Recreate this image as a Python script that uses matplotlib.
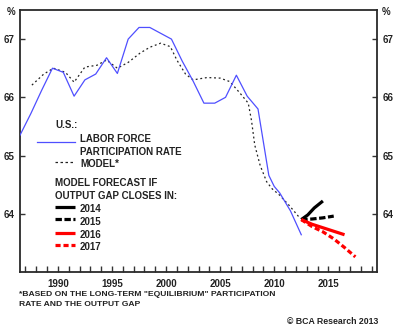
import matplotlib
matplotlib.use("Agg")
import matplotlib.pyplot as plt
from matplotlib.lines import Line2D

# ---------------- data ----------------
lfpr_years = [1986.5, 1987.5, 1988.5, 1989.5, 1990.5, 1991.5, 1992.5, 1993.5, 1994.5,
              1995.5, 1996.5, 1997.5, 1998.5, 1999.5, 2000.5, 2001.5, 2002.5, 2003.5,
              2004.5, 2005.5, 2006.5, 2007.5, 2008.5, 2009.5, 2010.0, 2010.5, 2011.5, 2012.5]
lfpr_values = [65.35, 65.72, 66.12, 66.50, 66.43, 66.02, 66.30, 66.40, 66.68,
               66.41, 67.00, 67.20, 67.20, 67.10, 67.00, 66.62, 66.28, 65.90,
               65.90, 66.00, 66.38, 66.02, 65.80, 64.66, 64.47, 64.36, 64.05, 63.64]

model_years = [1987.6, 1988.7, 1989.6, 1990.7, 1991.5, 1992.5, 1993.6, 1994.5, 1995.5,
               1996.5, 1997.6, 1998.5, 1999.5, 2000.4, 2001.0, 2001.8, 2002.5, 2003.8,
               2005.0, 2005.9, 2006.8, 2007.6, 2007.9, 2008.2, 2008.7, 2009.3, 2009.8,
               2010.5, 2011.4, 2012.4]
model_values = [66.21, 66.40, 66.50, 66.43, 66.26, 66.52, 66.55, 66.64, 66.50,
                66.60, 66.76, 66.86, 66.93, 66.87, 66.64, 66.40, 66.30, 66.34,
                66.33, 66.27, 66.08, 65.90, 65.60, 65.18, 64.83, 64.55, 64.43,
                64.32, 64.14, 63.92]

f2014_years = [2012.5, 2013.1, 2013.7, 2014.5]
f2014_values = [63.90, 63.98, 64.10, 64.22]
f2015_years = [2012.5, 2013.5, 2014.5, 2015.5]
f2015_values = [63.90, 63.91, 63.93, 63.96]
f2016_years = [2012.5, 2013.5, 2014.5, 2015.5, 2016.5]
f2016_values = [63.90, 63.82, 63.76, 63.70, 63.64]
f2017_years = [2012.5, 2013.5, 2014.5, 2015.5, 2016.5, 2017.5]
f2017_values = [63.90, 63.78, 63.69, 63.57, 63.42, 63.26]

x_major = [1990, 1995, 2000, 2005, 2010, 2015]
x_minor = list(range(1987, 2020))
y_ticks = [64, 65, 66, 67]

# ---------------- style ----------------
W, H = 400, 330
FONT = ["Liberation Sans", "DejaVu Sans"]
TXT = "#222222"
BLUE = "#4f4fff"
RED = "#ff0000"
FLW = 2.3

plt.rcParams["font.family"] = FONT

fig = plt.figure(figsize=(W / 100, H / 100), dpi=100)
ax = fig.add_axes([20 / W, 1 - 272 / H, (377 - 20) / W, (272 - 10) / H])


def P(x, y):
    return x / W, 1 - y / H


ax.plot(lfpr_years, lfpr_values, color=BLUE, lw=0.9, zorder=3)
ax.plot(model_years, model_values, color="#222222", lw=0.9, dashes=(1.5, 2.2), zorder=2)
ax.plot(f2014_years, f2014_values, color="black", lw=FLW, zorder=4, solid_capstyle="butt")
ax.plot(f2015_years, f2015_values, color="black", lw=FLW, dashes=(2.0, 0.8), zorder=4)
ax.plot(f2016_years, f2016_values, color=RED, lw=FLW, zorder=4, solid_capstyle="butt")
ax.plot(f2017_years, f2017_values, color=RED, lw=FLW, dashes=(1.6, 0.9), zorder=4)

ax.set_xlim(1986.5, 2019.5)
ax.set_ylim(63.0, 67.5)

ax.set_xticks(x_minor, minor=True)
ax.set_xticks(x_major)
ax.set_xticklabels([str(v) for v in x_major])
ax.set_yticks(y_ticks)
ax.set_yticklabels([str(v) for v in y_ticks])

ax.tick_params(axis="x", which="both", direction="in", length=4.5, width=1.0,
               color="#333333", pad=5, labelsize=7, labelcolor=TXT)
ax.tick_params(axis="y", which="both", direction="in", length=3.5, width=1.0,
               color="#333333", pad=4, labelsize=7, labelcolor=TXT,
               left=True, right=True, labelleft=True, labelright=True)
for lab in ax.get_xticklabels() + ax.get_yticklabels():
    lab.set_fontweight("bold")

for s in ax.spines.values():
    s.set_linewidth(1.3)
    s.set_color("#2a2a2a")

# percent signs
fig.text(*P(11, 12), "%", fontsize=7, fontweight="bold", color=TXT, ha="center", va="center")
fig.text(*P(386, 12), "%", fontsize=7, fontweight="bold", color=TXT, ha="center", va="center")

# ---------------- legend (manual layout) ----------------
def ltext(x, y, s):
    fig.text(*P(x, y), s, fontsize=7, fontweight="bold", color=TXT, ha="left", va="center")


def lkey(x0, x1, y, **kw):
    (a0, b0), (a1, b1) = P(x0, y), P(x1, y)
    fig.add_artist(Line2D([a0, a1], [b0, b1], transform=fig.transFigure, **kw))


ltext(55, 125, "U.S.:")
lkey(37, 75, 142, color=BLUE, lw=0.9)
ltext(80, 139, "LABOR FORCE")
ltext(80, 152, "PARTICIPATION RATE")
lkey(55, 75, 162, color="#222222", lw=0.9, dashes=(2.0, 2.0))
ltext(80, 164, "MODEL*")
ltext(55, 183, "MODEL FORECAST IF")
ltext(55, 196, "OUTPUT GAP CLOSES IN:")
lkey(55, 75, 207, color="black", lw=FLW, solid_capstyle="butt")
ltext(80, 209, "2014")
lkey(55, 75, 219, color="black", lw=FLW, dashes=(2.0, 0.8))
ltext(80, 222, "2015")
lkey(55, 75, 233, color=RED, lw=FLW, solid_capstyle="butt")
ltext(80, 235, "2016")
lkey(55, 75, 245, color=RED, lw=FLW, dashes=(1.6, 0.9))
ltext(80, 247, "2017")

# footnotes
fig.text(*P(19, 295), '*BASED ON THE LONG-TERM "EQUILIBRIUM" PARTICIPATION',
         fontsize=6.1, fontweight="bold", color=TXT, ha="left", va="center")
fig.text(*P(19, 305), "RATE AND THE OUTPUT GAP",
         fontsize=6.1, fontweight="bold", color=TXT, ha="left", va="center")
fig.text(*P(378, 321), "\u00a9 BCA Research 2013",
         fontsize=6.3, fontweight="bold", color=TXT, ha="right", va="center")

fig.savefig("out.png", dpi=100)
